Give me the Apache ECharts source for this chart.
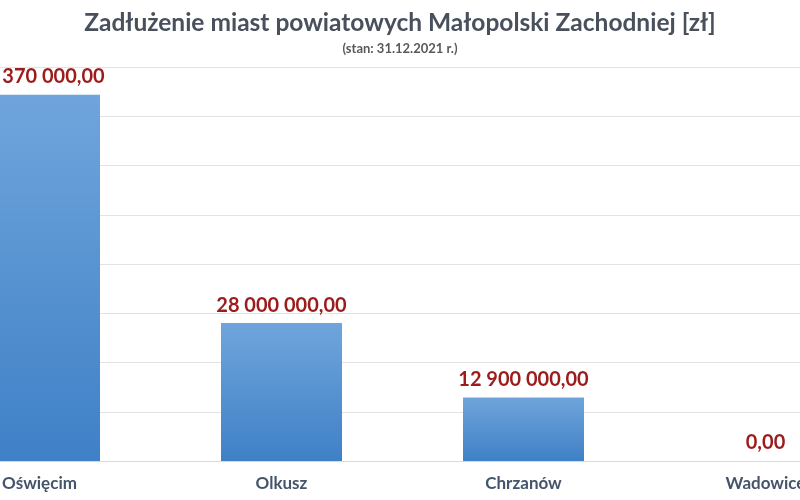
<!DOCTYPE html>
<html>
<head>
<meta charset="utf-8">
<script src="https://cdn.jsdelivr.net/npm/echarts@6/dist/echarts.min.js"></script>
<style>
  html, body { margin: 0; padding: 0; background: #fff; }
  #chart { width: 800px; height: 500px; }
</style>
</head>
<body>
<div id="chart"></div>
<script>
// dane: zadłużenie miast (stan 31.12.2021)
const cities = ['Oświęcim', 'Olkusz', 'Chrzanów', 'Wadowice'];
const debts = [74370000, 28000000, 12900000, 0];

const TITLE = 'Zadłużenie miast powiatowych Małopolski Zachodniej [zł]';
const SUBTITLE = '(stan: 31.12.2021 r.)';

// 28000000 -> "28 000 000,00"
function formatPln(v) {
    const parts = v.toFixed(2).split('.');
    return parts[0].replace(/\B(?=(\d{3})+(?!\d))/g, ' ') + ',' + parts[1];
}

const chart = echarts.init(document.getElementById('chart'));

chart.setOption({
    backgroundColor: '#ffffff',
    title: [
        {
            text: TITLE,
            left: 'center',
            top: 6,
            textStyle: { fontFamily: 'Lato', fontSize: 24.5, fontWeight: 'bold', color: '#48505c' }
        },
        {
            text: SUBTITLE,
            left: 'center',
            top: 37,
            textStyle: { fontFamily: 'Lato', fontSize: 13, fontWeight: 'bold', color: '#595959' }
        }
    ],
    // wykres jest przycięty z obu stron, więc siatka wychodzi poza płótno
    grid: {
        left: -81.5, width: 968, top: 67, bottom: 39,
        containLabel: false, outerBoundsMode: 'none'
    },
    xAxis: {
        type: 'category',
        data: cities,
        axisLine: { show: true, lineStyle: { color: '#d9d9d9' } },
        axisTick: { show: false },
        axisLabel: {
            margin: 14,
            fontFamily: 'Lato',
            fontSize: 17,
            fontWeight: 'bold',
            color: '#44546a'
        }
    },
    yAxis: {
        type: 'value',
        min: 0,
        max: 80000000,
        interval: 10000000,
        axisLabel: { show: false },
        axisLine: { show: false },
        axisTick: { show: false },
        splitLine: { lineStyle: { color: '#e3e3e3', width: 1 } }
    },
    series: [{
        type: 'bar',
        data: debts,
        barWidth: '50%',
        itemStyle: {
            color: new echarts.graphic.LinearGradient(0, 0, 0, 1, [
                { offset: 0, color: '#6fa5dc' },
                { offset: 1, color: '#3f80c6' }
            ])
        },
        label: {
            show: true,
            position: 'top',
            distance: 8,
            formatter: p => formatPln(p.value),
            fontFamily: 'Lato',
            fontSize: 20,
            fontWeight: 'bold',
            color: '#9c1c1c'
        }
    }],
    animation: false
});
</script>
</body>
</html>
